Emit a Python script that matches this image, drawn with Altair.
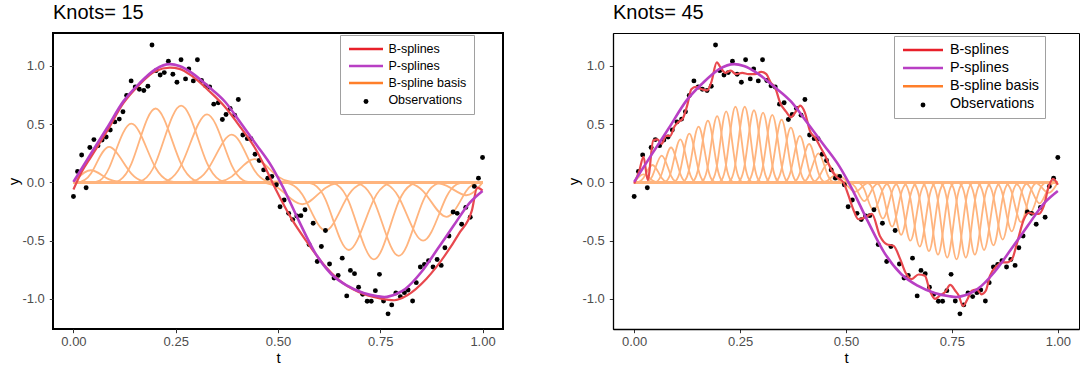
import altair as alt
import pandas as pd

# ---------------- data ----------------
observations = [
    (0.000, -0.120), (0.010, 0.094), (0.020, 0.236), (0.031, -0.046), (0.040, 0.300),
    (0.050, 0.368), (0.060, 0.316), (0.070, 0.365), (0.080, 0.390), (0.090, 0.450),
    (0.101, 0.520), (0.112, 0.544), (0.121, 0.607), (0.130, 0.746), (0.141, 0.872),
    (0.151, 0.820), (0.161, 0.800), (0.172, 0.789), (0.182, 0.826), (0.192, 1.180),
    (0.202, 0.960), (0.212, 0.923), (0.222, 0.943), (0.232, 1.040), (0.243, 0.929),
    (0.253, 0.860), (0.263, 1.054), (0.274, 0.889), (0.282, 0.974), (0.293, 0.872),
    (0.303, 1.054), (0.313, 0.875), (0.323, 0.830), (0.333, 0.820), (0.343, 0.672),
    (0.354, 0.684), (0.364, 0.541), (0.373, 0.584), (0.383, 0.635), (0.394, 0.578),
    (0.403, 0.712), (0.414, 0.407), (0.425, 0.376), (0.434, 0.376), (0.444, 0.242),
    (0.454, 0.188), (0.465, 0.108), (0.475, 0.037), (0.485, 0.051), (0.496, -0.020),
    (0.505, -0.208), (0.515, -0.151), (0.526, -0.265), (0.536, -0.319), (0.546, -0.288),
    (0.556, -0.285), (0.566, -0.234), (0.576, -0.533), (0.586, -0.350), (0.596, -0.678),
    (0.606, -0.550), (0.616, -0.413), (0.626, -0.700), (0.637, -0.820), (0.647, -0.798),
    (0.657, -0.650), (0.668, -0.974), (0.677, -0.755), (0.687, -0.783), (0.697, -0.900),
    (0.707, -0.960), (0.718, -1.020), (0.728, -1.020), (0.738, -0.929), (0.748, -0.789),
    (0.758, -1.017), (0.769, -1.128), (0.778, -1.051), (0.788, -0.949), (0.799, -0.980),
    (0.809, -0.946), (0.818, -0.923), (0.829, -1.017), (0.838, -0.860), (0.848, -0.726),
    (0.858, -0.704), (0.868, -0.672), (0.879, -0.726), (0.889, -0.661), (0.899, -0.712),
    (0.908, -0.560), (0.918, -0.460), (0.928, -0.254), (0.938, -0.265), (0.949, -0.359),
    (0.959, -0.214), (0.970, -0.299), (0.980, -0.034), (0.990, 0.037), (1.000, 0.214),
]

# basis functions (centre of each bump, height of its peak)
k15_centers = [0.043, 0.085, 0.141, 0.200, 0.263, 0.327, 0.388, 0.442, 0.500,
               0.560, 0.616, 0.672, 0.735, 0.795, 0.855, 0.913, 0.962]
k15_peaks = [0.105, 0.305, 0.505, 0.635, 0.660, 0.585, 0.410, 0.200, 0.010,
             -0.187, -0.413, -0.580, -0.660, -0.630, -0.500, -0.295, -0.110]

k45_centers = [0.022, 0.043, 0.065, 0.087, 0.109, 0.130, 0.152, 0.174, 0.196, 0.217,
               0.239, 0.261, 0.283, 0.304, 0.326, 0.348, 0.370, 0.391, 0.413, 0.435,
               0.457, 0.478, 0.500, 0.522, 0.543, 0.565, 0.587, 0.609, 0.630, 0.652,
               0.674, 0.696, 0.717, 0.739, 0.761, 0.783, 0.804, 0.826, 0.848, 0.870,
               0.891, 0.913, 0.935, 0.957, 0.978]
k45_peaks = [0.07, 0.15, 0.23, 0.30, 0.37, 0.42, 0.48, 0.53, 0.57, 0.61,
             0.65, 0.65, 0.62, 0.60, 0.58, 0.54, 0.47, 0.40, 0.33, 0.25,
             0.16, 0.07, 0.00, -0.08, -0.16, -0.24, -0.31, -0.38, -0.45, -0.50,
             -0.55, -0.59, -0.62, -0.645, -0.66, -0.645, -0.62, -0.58, -0.54, -0.49,
             -0.42, -0.34, -0.26, -0.18, -0.09]

bspline15 = [(0.000, -0.060), (0.020, 0.090), (0.043, 0.220), (0.082, 0.440), (0.122, 0.680),
             (0.161, 0.840), (0.200, 0.955), (0.236, 0.985), (0.259, 0.975), (0.291, 0.910),
             (0.330, 0.790), (0.370, 0.650), (0.409, 0.470), (0.448, 0.270), (0.470, 0.120),
             (0.496, -0.070), (0.531, -0.300), (0.571, -0.512), (0.610, -0.697), (0.650, -0.840),
             (0.697, -0.940), (0.752, -0.997), (0.784, -1.011), (0.816, -0.968), (0.863, -0.826),
             (0.911, -0.612), (0.942, -0.441), (0.974, -0.240), (0.987, -0.045), (1.000, -0.070)]

pspline = [(0.000, 0.005), (0.043, 0.250), (0.082, 0.467), (0.122, 0.696), (0.161, 0.850),
           (0.200, 0.971), (0.236, 1.016), (0.259, 1.000), (0.291, 0.937), (0.330, 0.823),
           (0.370, 0.695), (0.409, 0.510), (0.448, 0.320), (0.484, 0.140), (0.512, -0.040),
           (0.551, -0.330), (0.590, -0.600), (0.630, -0.786), (0.669, -0.886), (0.709, -0.949),
           (0.744, -0.977), (0.760, -0.983), (0.790, -0.955), (0.811, -0.914), (0.850, -0.771),
           (0.890, -0.572), (0.929, -0.372), (0.969, -0.173), (1.000, -0.073)]

bspline45 = [(0.000, -0.010), (0.012, 0.100), (0.022, 0.220), (0.032, 0.020), (0.045, 0.360),
             (0.055, 0.370), (0.065, 0.330), (0.075, 0.400), (0.085, 0.400), (0.095, 0.480),
             (0.105, 0.520), (0.115, 0.550), (0.125, 0.660), (0.135, 0.800), (0.145, 0.820),
             (0.160, 0.800), (0.172, 0.790), (0.182, 0.860), (0.195, 1.030), (0.205, 0.980),
             (0.215, 0.940), (0.228, 0.960), (0.240, 0.930), (0.255, 0.940), (0.270, 0.930),
             (0.285, 0.930), (0.300, 0.950), (0.312, 0.930), (0.322, 0.860), (0.333, 0.810),
             (0.345, 0.680), (0.358, 0.610), (0.370, 0.560), (0.380, 0.600), (0.392, 0.660),
             (0.403, 0.600), (0.415, 0.440), (0.428, 0.380), (0.440, 0.300), (0.452, 0.220),
             (0.465, 0.110), (0.477, 0.050), (0.494, 0.000), (0.506, -0.114), (0.517, -0.230),
             (0.529, -0.316), (0.545, -0.300), (0.561, -0.270), (0.580, -0.459), (0.596, -0.530),
             (0.612, -0.544), (0.628, -0.658), (0.640, -0.770), (0.655, -0.830), (0.671, -0.790),
             (0.686, -0.800), (0.698, -0.930), (0.710, -1.000), (0.722, -0.970), (0.734, -0.940),
             (0.746, -0.880), (0.758, -0.930), (0.766, -0.970), (0.776, -1.060), (0.787, -1.000),
             (0.797, -0.930), (0.809, -0.920), (0.820, -0.960), (0.830, -0.930), (0.840, -0.800),
             (0.857, -0.714), (0.869, -0.686), (0.880, -0.686), (0.892, -0.658), (0.904, -0.516),
             (0.920, -0.316), (0.932, -0.260), (0.943, -0.270), (0.955, -0.270), (0.967, -0.200),
             (0.979, -0.030), (0.989, 0.030), (1.000, -0.020)]

series_names = ["B-splines", "P-splines", "B-spline basis", "Observations"]
legend_colors = ["#e8202a", "#b83fc4", "#ff7f2a", "transparent"]
x_ticks = [0, 0.25, 0.5, 0.75, 1]
y_ticks = [-1, -0.5, 0, 0.5, 1]

# ---------------- styling ----------------
FONT = "Liberation Sans"
RED_PLOT = "#e8484e"
PURPLE = "#aa3bb8"
BASIS_PLOT = "#ffb47e"
X_DOMAIN = [-0.05, 1.05]
Y_DOMAIN = [-1.258, 1.283]
H = 296


def basis_frame(centers, peaks):
    pos = [0.0] + list(centers) + [1.0]
    rows = []
    for i, h in enumerate(peaks):
        for j, p in enumerate(pos):
            rows.append({"t": p, "y": 1.5 * h if j == i + 1 else 0.0, "k": i, "o": j})
    return pd.DataFrame(rows)


def curve_frame(points, series):
    return pd.DataFrame({"t": [p[0] for p in points], "y": [p[1] for p in points],
                         "series": series, "o": list(range(len(points)))})


obs_df = pd.DataFrame({"t": [p[0] for p in observations], "y": [p[1] for p in observations],
                       "lbl": "Observations"})

Y_LABEL_EXPR = "datum.value < 0 ? '-' + format(-datum.value, '.1f') : format(datum.value, '.1f')"


def panel(title, basis_df, red_pts, L, framed, width):
    axis_common = dict(labelFont=FONT, labelFontSize=13, labelColor="#4d4d4d",
                       titleFont=FONT, titleFontSize=15, titleColor="black",
                       titleFontWeight="normal", tickColor="#333333", tickSize=3.7,
                       tickWidth=1, grid=False,
                       domain=not framed, domainColor="black", domainWidth=1.3)
    x = alt.X("t:Q", scale=alt.Scale(domain=X_DOMAIN, nice=False, zero=False),
              axis=alt.Axis(values=x_ticks, format=".2f", title="t", labelPadding=3,
                            titleY=33, titleBaseline="alphabetic", **axis_common))
    y = alt.Y("y:Q", scale=alt.Scale(domain=Y_DOMAIN, nice=False, zero=False),
              axis=alt.Axis(values=y_ticks, labelExpr=Y_LABEL_EXPR, title="y",
                            labelPadding=5, titleAngle=270, titleX=-40, titleY=H / 2,
                            titleAlign="center", titleBaseline="middle", **axis_common))

    basis = alt.Chart(basis_df).mark_line(
        interpolate="basis", color=BASIS_PLOT, strokeWidth=1.8
    ).encode(x=x, y=y, detail="k:N", order="o:Q")

    points = alt.Chart(obs_df).mark_point(
        filled=True, size=24, color="black", opacity=1, strokeWidth=0
    ).encode(
        x="t:Q", y="y:Q",
        shape=alt.Shape("lbl:N", scale=alt.Scale(domain=["Observations"], range=["circle"]),
                        legend=alt.Legend(orient="none", legendX=L["dotX"], legendY=L["dotY"],
                                          title=None, padding=0, symbolSize=24,
                                          symbolFillColor="black", symbolStrokeWidth=0,
                                          symbolOpacity=1, labelFontSize=1, labelExpr="''")),
    )

    red = alt.Chart(curve_frame(red_pts, "B-splines")).mark_line(
        interpolate="monotone", color=RED_PLOT, strokeWidth=2.2
    ).encode(x="t:Q", y="y:Q", order="o:Q")

    purple = alt.Chart(curve_frame(pspline, "P-splines")).mark_line(
        interpolate="monotone", color=PURPLE, strokeWidth=2.6
    ).encode(
        x="t:Q", y="y:Q", order="o:Q",
        color=alt.Color("series:N",
                        scale=alt.Scale(domain=series_names, range=legend_colors),
                        legend=alt.Legend(orient="none", legendX=L["x"], legendY=L["y"],
                                          title=None, symbolType="M-3,0H3",
                                          symbolSize=L["symSize"], symbolStrokeWidth=2.5,
                                          symbolOffset=L["symOff"], labelOffset=L["labOff"],
                                          labelFont=FONT, labelFontSize=L["font"],
                                          labelColor="black", rowPadding=L["rowPad"],
                                          padding=L["pad"], strokeColor="#a0a0a0",
                                          symbolOpacity=1, labelExpr=L["labelExpr"])),
    )

    view = (alt.ViewBackground(stroke="black", strokeWidth=2) if framed
            else alt.ViewBackground(stroke="black", strokeWidth=1))
    return alt.layer(basis, points, red, purple).properties(
        width=width, height=H, view=view,
        title=alt.TitleParams(title, anchor="start", frame="group", font=FONT,
                              fontSize=20, fontWeight="normal", color="black",
                              offset=-6, baseline="alphabetic"),
    )


L1 = dict(x=287, y=2, pad=7, symSize=128.4, symOff=12, labOff=15.4, font=12.5, rowPad=3,
          labelExpr="datum.label + '    '", dotX=310.5, dotY=66)
L2 = dict(x=281, y=3, pad=6, symSize=177.8, symOff=15, labOff=19, font=14.3, rowPad=2.1,
          labelExpr="datum.label + '          '", dotX=307.5, dotY=69.5)

p1 = panel("Knots= 15", basis_frame(k15_centers, k15_peaks), bspline15, L1, True, 450)
p2 = panel("Knots= 45", basis_frame(k45_centers, k45_peaks), bspline45, L2, False, 466)

chart = alt.hconcat(p1, p2, spacing=110, bounds="flush").resolve_scale(
    color="independent", shape="independent", x="independent", y="independent"
).resolve_legend(color="independent", shape="independent").properties(
    padding={"left": 5, "right": 0, "top": 2, "bottom": 2},
    background="white",
).configure_view(stroke=None)

chart.save("out.html", embed_options={"renderer": "svg", "actions": False})
